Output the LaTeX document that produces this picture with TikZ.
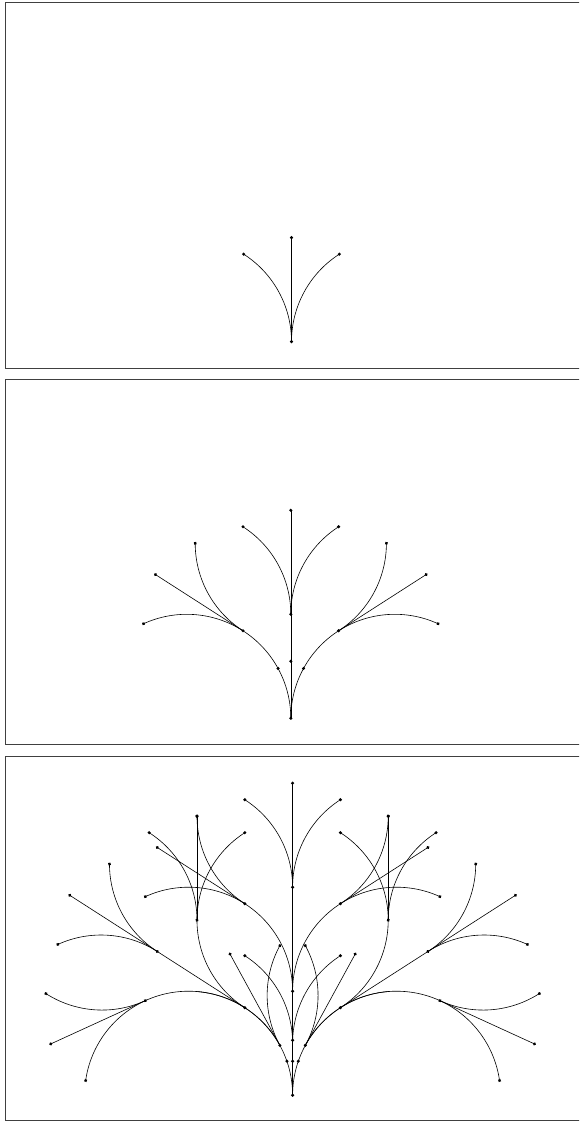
\documentclass[tikz,border=0pt]{standalone}
\newcommand\Lb{104}
\newcommand\dr{1.7}
\tikzset{
  br/.style={draw=black,line width=0.6pt},
  dotc/.style={fill=black},
  frame/.style={draw=black!75,line width=0.9pt}
}
\newcommand\plantlines{%
  \draw[br] (0,0) -- (0,\Lb);
  \draw[br] (0,0) arc[start angle=0,end angle=57.2958,radius=\Lb];
  \draw[br] (0,0) arc[start angle=180,end angle=122.7042,radius=\Lb];
}
\newcommand\plantbranches{%
  \plantlines
  \fill[dotc] (0,\Lb) circle[radius=\dr] (-47.81,87.51) circle[radius=\dr] (47.81,87.51) circle[radius=\dr];
}
\newcommand\plant[1]{%
  \plantbranches
  \ifnum#1>1
    \begin{scope}[shift={(0,\Lb)}]\plant{\the\numexpr#1-1\relax}\end{scope}
    \begin{scope}[shift={(-47.81,87.51)},rotate=57.2958]\plant{\the\numexpr#1-1\relax}\end{scope}
    \begin{scope}[shift={(47.81,87.51)},rotate=-57.2958]\plant{\the\numexpr#1-1\relax}\end{scope}
  \fi
}
\begin{document}
\begin{tikzpicture}[x=1pt,y=1pt]
\useasboundingbox (0,0) rectangle (579,1123);
\clip (0,0) rectangle (579,1123);
% panel frames
\draw[frame] (5.5,1120.3) rectangle (600,754.7);
\draw[frame] (5.5,743.3) rectangle (600,378.7);
\draw[frame] (5.5,367) rectangle (600,2.5);
% stage 1
\begin{scope}[shift={(291.5,781.3)}]
  \plant{1}
  \fill[dotc] (0,0) circle[radius=\dr];
\end{scope}
% stage 2
\begin{scope}[shift={(290.8,404.7)}]
  \plant{2}
  \fill[dotc] (0,0) circle[radius=\dr] (0,57) circle[radius=\dr]
    (-12.73,49.86) circle[radius=\dr] (12.73,49.86) circle[radius=\dr];
\end{scope}
% stage 3
\begin{scope}[shift={(292.6,27.8)}]
  \plant{3}
  \begin{scope}[shift={(0,52)}]
    \plantlines
    \fill[dotc] (-47.81,87.51) circle[radius=\dr] (47.81,87.51) circle[radius=\dr];
  \end{scope}
  \begin{scope}[shift={(-12.73,49.86)},rotate=28.6479]
    \plantlines
    \fill[dotc] (0,\Lb) circle[radius=\dr] (47.81,87.51) circle[radius=\dr];
  \end{scope}
  \begin{scope}[shift={(12.73,49.86)},rotate=-28.6479]
    \plantlines
    \fill[dotc] (0,\Lb) circle[radius=\dr] (-47.81,87.51) circle[radius=\dr];
  \end{scope}
  \fill[dotc] (0,0) circle[radius=\dr] (0,34) circle[radius=\dr] (0,55) circle[radius=\dr]
    (-5.71,34.03) circle[radius=\dr] (5.71,34.03) circle[radius=\dr]
    (-12.73,49.86) circle[radius=\dr] (12.73,49.86) circle[radius=\dr];
\end{scope}
\end{tikzpicture}
\end{document}
